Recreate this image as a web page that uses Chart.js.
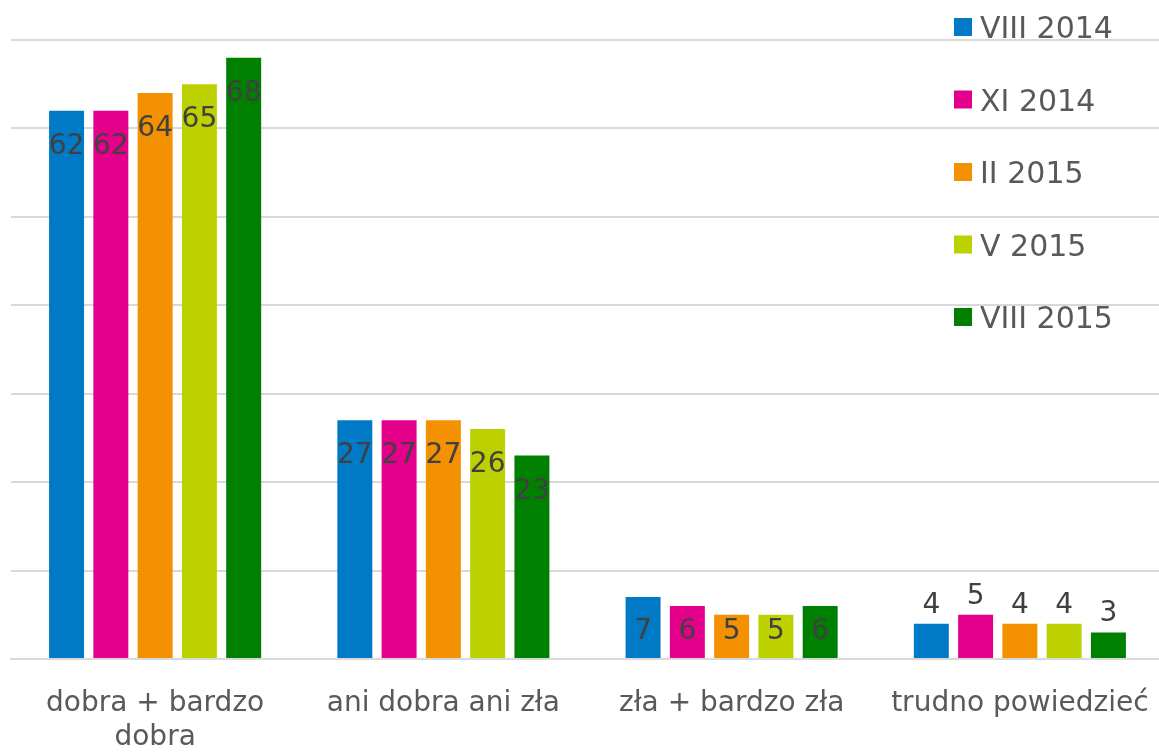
<!DOCTYPE html>
<html>
<head>
<meta charset="utf-8">
<script src="https://cdn.jsdelivr.net/npm/chart.js@4"></script>
<style>
  html, body { margin: 0; padding: 0; background: #fff; overflow: hidden; }
  #wrap { width: 1164px; height: 754px; }
</style>
</head>
<body>
<div id="wrap"><canvas id="myChart"></canvas></div>
<script>
// categories and series
var categories = [["dobra + bardzo", "dobra"], "ani dobra ani zła", "zła + bardzo zła", "trudno powiedzieć"];
var seriesNames = ["VIII 2014", "XI 2014", "II 2015", "V 2015", "VIII 2015"];
var seriesColors = ["#0079C6", "#E4008B", "#F39100", "#BDD000", "#008000"];
var aug2014 = [62, 27, 7, 4];
var nov2014 = [62, 27, 6, 5];
var feb2015 = [64, 27, 5, 4];
var may2015 = [65, 26, 5, 4];
var aug2015 = [68, 23, 6, 3];
var allValues = [aug2014, nov2014, feb2015, may2015, aug2015];
var yTicks = [0, 10, 20, 30, 40, 50, 60, 70];

var fontName = "'DejaVu Sans', sans-serif";
var labelsAboveCategory = 3; // last group has its labels above the bars

var datasets = seriesNames.map(function (name, i) {
    return {
        label: name,
        data: allValues[i],
        backgroundColor: seriesColors[i],
        categoryPercentage: 0.768,
        barPercentage: 0.79
    };
});

// value labels, drawn on the bars
var valueLabels = {
    id: "valueLabels",
    afterDatasetsDraw: function (chart) {
        var ctx = chart.ctx;
        var base = chart.scales.y.getPixelForValue(0);
        ctx.save();
        ctx.font = "28px " + fontName;
        ctx.fillStyle = "#404040";
        ctx.textAlign = "center";
        ctx.textBaseline = "alphabetic";
        chart.data.datasets.forEach(function (ds, i) {
            var meta = chart.getDatasetMeta(i);
            meta.data.forEach(function (bar, j) {
                var cy;
                if (j === labelsAboveCategory) {
                    cy = bar.y - 21;
                } else {
                    cy = Math.min(bar.y + 33, base - 30);
                }
                ctx.fillText(String(ds.data[j]), bar.x, cy + 10);
            });
        });
        ctx.restore();
    }
};

// legend at top right, over the grid
var sideLegend = {
    id: "sideLegend",
    afterDraw: function (chart) {
        var ctx = chart.ctx;
        ctx.save();
        ctx.font = "30px " + fontName;
        ctx.textBaseline = "alphabetic";
        ctx.textAlign = "left";
        chart.data.datasets.forEach(function (ds, i) {
            var cy = 27 + i * 72.5;
            ctx.fillStyle = ds.backgroundColor;
            ctx.fillRect(954, cy - 9, 18, 18);
            ctx.fillStyle = "#595959";
            ctx.fillText(ds.label, 980, cy + 11);
        });
        ctx.restore();
    }
};

var chart = new Chart("myChart", {
    type: "bar",
    data: {
        labels: categories,
        datasets: datasets
    },
    options: {
        responsive: true,
        maintainAspectRatio: false,
        animation: false,
        layout: { padding: { left: 11, right: 0, top: 40, bottom: 0 } },
        plugins: {
            legend: { display: false },
            tooltip: { enabled: false }
        },
        scales: {
            x: {
                grid: { display: false, drawTicks: false },
                border: { color: "#D9D9D9", width: 2 },
                ticks: {
                    color: "#595959",
                    font: { family: fontName, size: 28 },
                    padding: 28,
                    maxRotation: 0,
                    autoSkip: false
                },
                afterFit: function (axis) {
                    axis.height = 95;
                    axis.paddingLeft = 0;
                    axis.paddingRight = 0;
                }
            },
            y: {
                min: 0,
                max: 70,
                afterBuildTicks: function (axis) {
                    axis.ticks = yTicks.map(function (v) { return { value: v }; });
                },
                ticks: { display: false },
                grid: { color: "#D9D9D9", lineWidth: 2, drawTicks: false },
                border: { display: false }
            }
        }
    },
    plugins: [valueLabels, sideLegend]
});
</script>
</body>
</html>
